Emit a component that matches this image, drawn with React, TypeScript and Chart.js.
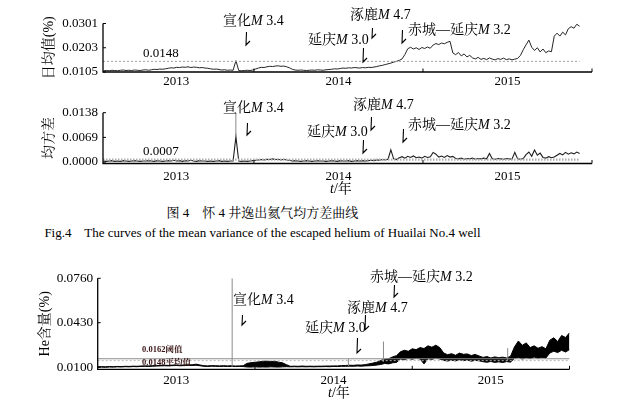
import React, { useEffect, useRef } from 'react';
import { Chart, registerables } from 'chart.js';

Chart.register(...registerables);

const SERIF = "'Liberation Serif','Times New Roman','Noto Serif CJK SC','Noto Sans CJK SC',serif";

// ---------------- data ----------------
// Daily-mean and mean-variance samples (fractional year grid)
const SAMPLE_START_A = 2013.11;
const SAMPLE_STEP_A = 1 / 60;

const dailyMean = [
  0.0110, 0.0111, 0.0110, 0.0112, 0.0111, 0.0110, 0.0112, 0.0113, 0.0111, 0.0112,
  0.0111, 0.0113, 0.0112, 0.0111, 0.0113, 0.0114, 0.0112,
  0.0114, 0.0116, 0.0115, 0.0117, 0.0116, 0.0118,
  0.0120, 0.0122, 0.0121, 0.0124, 0.0123, 0.0125, 0.0124, 0.0126, 0.0123, 0.0125, 0.0124, 0.0122, 0.0123, 0.0121, 0.0120,
  0.0118, 0.0116, 0.0117, 0.0115, 0.0113, 0.0114, 0.0112, 0.0113, 0.0112,
  0.0151,
  0.0111, 0.0110, 0.0111, 0.0112, 0.0111, 0.0113,
  0.0117, 0.0121, 0.0124, 0.0123, 0.0126, 0.0128, 0.0127, 0.0129, 0.0130, 0.0128, 0.0129, 0.0126, 0.0122,
  0.0116, 0.0113, 0.0112, 0.0113, 0.0112, 0.0111, 0.0112, 0.0113, 0.0112, 0.0114, 0.0113, 0.0112, 0.0114, 0.0115,
  0.0116, 0.0118, 0.0117, 0.0119, 0.0121, 0.0120, 0.0122, 0.0121, 0.0123, 0.0122, 0.0121, 0.0123, 0.0122, 0.0124, 0.0123,
  0.0125, 0.0127, 0.0130, 0.0132,
  0.0135, 0.0138, 0.0141, 0.0145, 0.0148, 0.0152,
  0.0158, 0.0176,
  0.0199, 0.0205, 0.0198, 0.0203, 0.0196, 0.0204, 0.0200, 0.0206, 0.0201,
  0.0214, 0.0220, 0.0216, 0.0222, 0.0219, 0.0225, 0.0229,
  0.0182,
  0.0175, 0.0184, 0.0170, 0.0178, 0.0166, 0.0172, 0.0162,
  0.0158, 0.0164, 0.0156, 0.0160, 0.0155, 0.0162, 0.0157, 0.0154, 0.0159, 0.0156, 0.0161, 0.0155, 0.0158, 0.0154, 0.0157, 0.0160,
  0.0172, 0.0195, 0.0215, 0.0234, 0.0205,
  0.0192, 0.0203, 0.0186, 0.0198, 0.0183, 0.0190, 0.0187,
  0.0250,
  0.0262, 0.0250, 0.0266, 0.0255,
  0.0280, 0.0288, 0.0282, 0.0298, 0.0290,
];

const meanVariance = [
  0.0003, 0.0002, 0.0003, 0.0004, 0.0002, 0.0003, 0.0002, 0.0004, 0.0003, 0.0002,
  0.0003, 0.0004, 0.0003, 0.0002, 0.0003, 0.0003, 0.0004,
  0.0003, 0.0002, 0.0004, 0.0003, 0.0002, 0.0003,
  0.0004, 0.0003, 0.0005, 0.0003, 0.0004, 0.0002, 0.0004, 0.0003, 0.0005, 0.0003, 0.0002, 0.0004, 0.0003, 0.0003, 0.0002,
  0.0003, 0.0002, 0.0003, 0.0004, 0.0002, 0.0003, 0.0002, 0.0003, 0.0003,
  0.0071,
  0.0003, 0.0002, 0.0003, 0.0002, 0.0003, 0.0004,
  0.0005, 0.0006, 0.0007, 0.0006, 0.0008, 0.0007, 0.0009, 0.0007, 0.0008, 0.0006, 0.0008, 0.0006, 0.0005,
  0.0003, 0.0004, 0.0003, 0.0002, 0.0003, 0.0004, 0.0003, 0.0002, 0.0003, 0.0004, 0.0003, 0.0003, 0.0002, 0.0003,
  0.0004, 0.0003, 0.0002, 0.0004, 0.0003, 0.0003, 0.0004, 0.0002, 0.0003, 0.0004, 0.0003, 0.0004, 0.0003,
  0.0004, 0.0005, 0.0004, 0.0006, 0.0005, 0.0007, 0.0006, 0.0008,
  0.0034,
  0.0009, 0.0007,
  0.0012, 0.0015, 0.0011, 0.0016, 0.0013, 0.0017, 0.0012, 0.0014, 0.0011, 0.0016, 0.0013, 0.0015,
  0.0027, 0.0022,
  0.0014, 0.0017, 0.0013, 0.0018, 0.0014, 0.0016,
  0.0010, 0.0009, 0.0011, 0.0008, 0.0010, 0.0009, 0.0011, 0.0008, 0.0010, 0.0009, 0.0011, 0.0009,
  0.0024,
  0.0009, 0.0008, 0.0010, 0.0009, 0.0008, 0.0010, 0.0009, 0.0008,
  0.0027,
  0.0009, 0.0008, 0.0010,
  0.0021, 0.0028, 0.0016, 0.0034, 0.0019, 0.0025,
  0.0013, 0.0011, 0.0015, 0.0012, 0.0014,
  0.0019, 0.0024, 0.0020, 0.0027, 0.0022, 0.0026, 0.0023, 0.0028, 0.0024,
];

// He content: upper and lower envelope of the raw record
const SAMPLE_START_B = 2013.0;
const SAMPLE_STEP_B = 1 / 40;

const heHigh = [
  0.0102, 0.0103, 0.0102, 0.0104, 0.0103, 0.0105, 0.0104, 0.0106, 0.0105,
  0.0107, 0.0106, 0.0108, 0.0109, 0.0109, 0.0110, 0.0111,
  0.0113, 0.0114, 0.0113, 0.0115, 0.0116, 0.0114, 0.0116, 0.0117, 0.0117,
  0.0122, 0.0116,
  0.0110, 0.0109, 0.0111, 0.0110, 0.0109, 0.0110, 0.0109,
  0.0110,
  0.0108, 0.0109, 0.0110,
  0.0128, 0.0133, 0.0136, 0.0139, 0.0143, 0.0145, 0.0141, 0.0144, 0.0137, 0.0132, 0.0118,
  0.0106, 0.0107, 0.0106, 0.0108, 0.0106, 0.0107, 0.0106, 0.0107,
  0.0107, 0.0108, 0.0108, 0.0109, 0.0109, 0.0111,
  0.0112, 0.0114, 0.0113, 0.0116, 0.0115, 0.0118,
  0.0124, 0.0130, 0.0137,
  0.0150, 0.0158, 0.0162, 0.0176, 0.0185,
  0.0214, 0.0225, 0.0218, 0.0236, 0.0230, 0.0245, 0.0238, 0.0258, 0.0248, 0.0263,
  0.0245, 0.0205,
  0.0192, 0.0200, 0.0188, 0.0204, 0.0195, 0.0198, 0.0186, 0.0194, 0.0183,
  0.0172, 0.0178, 0.0168, 0.0176, 0.0170, 0.0174, 0.0168, 0.0180,
  0.0250, 0.0294, 0.0262, 0.0280, 0.0245, 0.0258, 0.0240, 0.0252, 0.0236,
  0.0300, 0.0318, 0.0290, 0.0335, 0.0320, 0.0355,
];

const heLow = [
  0.0099, 0.0100, 0.0099, 0.0101, 0.0100, 0.0102, 0.0101, 0.0103, 0.0102,
  0.0104, 0.0103, 0.0105, 0.0106, 0.0105, 0.0107, 0.0108,
  0.0109, 0.0110, 0.0109, 0.0111, 0.0112, 0.0110, 0.0112, 0.0113, 0.0112,
  0.0114, 0.0110,
  0.0106, 0.0105, 0.0107, 0.0106, 0.0105, 0.0106, 0.0105,
  0.0105,
  0.0104, 0.0105, 0.0104,
  0.0101, 0.0100, 0.0102, 0.0100, 0.0101, 0.0100, 0.0102, 0.0101, 0.0100, 0.0102, 0.0103,
  0.0102, 0.0103, 0.0102, 0.0103, 0.0102, 0.0103, 0.0102, 0.0103,
  0.0103, 0.0104, 0.0103, 0.0105, 0.0104, 0.0106,
  0.0106, 0.0107, 0.0106, 0.0108, 0.0107, 0.0109,
  0.0110, 0.0112, 0.0115,
  0.0120, 0.0127, 0.0124, 0.0132, 0.0135,
  0.0160, 0.0155, 0.0165, 0.0158, 0.0167, 0.0160, 0.0124, 0.0163, 0.0157, 0.0168,
  0.0160, 0.0150,
  0.0145, 0.0152, 0.0146, 0.0155, 0.0148, 0.0153, 0.0144, 0.0150, 0.0147,
  0.0140, 0.0136, 0.0142, 0.0135, 0.0139, 0.0134, 0.0141, 0.0137,
  0.0165, 0.0172, 0.0160, 0.0170, 0.0163, 0.0175, 0.0166, 0.0171, 0.0168,
  0.0205, 0.0218, 0.0208, 0.0225, 0.0212, 0.0230,
];

const MEAN_LEVEL = 0.0148;
const VARIANCE_LEVEL = 0.0007;
const HE_THRESHOLD = 0.0162;
const HE_MEAN = 0.0148;

// isolated single-day outliers (thin grey strokes)
const varianceSpikes = [{ x: 2013.893, from: 0.0071, to: 0.0138 }];
const heSpikes = [
  { x: 2013.855, from: 0.0103, to: 0.0760 },
  { x: 2014.594, from: 0.0108, to: 0.0162 },
  { x: 2014.817, from: 0.0140, to: 0.0290 },
  { x: 2015.607, from: 0.0150, to: 0.0241 },
];

const yearNames = ['2013', '2014', '2015'];
const yearBoundaries = [2014, 2015, 2016];
const meanTicks = [0.0105, 0.0203, 0.0301];
const varianceTicks = [0.0, 0.0069, 0.0138];
const heTicks = [0.0100, 0.0430, 0.0760];

const quakes = [
  { place: '宣化', mag: '3.4' },
  { place: '延庆', mag: '3.0' },
  { place: '涿鹿', mag: '4.7' },
  { place: '赤城—延庆', mag: '3.2' },
];

// ---------------- layout ----------------
type NotePos = { tx: number; ty: number; ax: number; a1: number; a2: number };
type Txt = { t: string; x: number; y: number; size: number; bold?: boolean; color?: string };
type Panel = {
  top: number; height: number;
  area: { left: number; right: number; top: number; bottom: number };
  xRange: [number, number]; yRange: [number, number];
  yTicks: number[]; yearPos: number[];
  yTitle: string; yTitleX: number; tickFont: number; yTickPad: number; xTickPad: number;
  datasets: any[]; notes: NotePos[]; texts: Txt[]; xTitle?: { x: number; y: number };
};

const W = 631;

function series(values: number[], start: number, step: number) {
  return values.map((v, i) => ({ x: start + i * step, y: v }));
}
function spikes(list: { x: number; from: number; to: number }[]) {
  const out: any[] = [];
  list.forEach((s) => { out.push({ x: s.x, y: s.from }, { x: s.x, y: s.to }, { x: s.x, y: null }); });
  return out;
}
function hline(v: number, x0: number, x1: number) {
  return [{ x: x0, y: v }, { x: x1, y: v }];
}

const lastA = SAMPLE_START_A + (dailyMean.length - 1) * SAMPLE_STEP_A;

const panel1: Panel = {
  top: 0, height: 92,
  area: { left: 103, right: 592, top: 23.5, bottom: 72 },
  xRange: [2013.107, 2016.0], yRange: [0.0105, 0.0301],
  yTicks: meanTicks, yearPos: [2013.54, 2014.5, 2015.5],
  yTitle: '日均值(%)', yTitleX: 49, tickFont: 13, yTickPad: 5, xTickPad: 2,
  datasets: [
    { data: hline(MEAN_LEVEL, 2013.107, lastA), borderColor: '#a0a0a0', borderWidth: 1, borderDash: [2, 2] },
    { data: series(dailyMean, SAMPLE_START_A, SAMPLE_STEP_A), borderColor: '#262626', borderWidth: 1 },
  ],
  notes: [
    { tx: 223, ty: 21, ax: 246, a1: 32, a2: 45 },
    { tx: 308, ty: 40, ax: 363, a1: 48, a2: 62 },
    { tx: 350, ty: 15, ax: 372, a1: 28, a2: 38 },
    { tx: 408, ty: 30, ax: 402, a1: 30, a2: 43 },
  ],
  texts: [{ t: '0.0148', x: 143, y: 54, size: 13 }],
};

const panel2: Panel = {
  top: 92, height: 110,
  area: { left: 103, right: 592, top: 112.7, bottom: 163.5 },
  xRange: [2013.107, 2016.0], yRange: [-0.0004, 0.0138],
  yTicks: varianceTicks, yearPos: [2013.54, 2014.5, 2015.5],
  yTitle: '均方差', yTitleX: 49, tickFont: 13, yTickPad: 5, xTickPad: 5,
  datasets: [
    { data: hline(VARIANCE_LEVEL, 2013.107, lastA), borderColor: '#b0b0b0', borderWidth: 2.2, borderDash: [1.5, 1.5] },
    { data: spikes(varianceSpikes), borderColor: '#8a8a8a', borderWidth: 1, spanGaps: false },
    { data: series(meanVariance, SAMPLE_START_A, SAMPLE_STEP_A), borderColor: '#1e1e1e', borderWidth: 1.1 },
  ],
  notes: [
    { tx: 223, ty: 108, ax: 247, a1: 123, a2: 135 },
    { tx: 307, ty: 132, ax: 363, a1: 140, a2: 153 },
    { tx: 353, ty: 105, ax: 371, a1: 117, a2: 130 },
    { tx: 408, ty: 125, ax: 403, a1: 129, a2: 142 },
  ],
  texts: [{ t: '0.0007', x: 143, y: 152, size: 13 }],
  xTitle: { x: 330, y: 189 },
};

const panel3: Panel = {
  top: 262, height: 143,
  area: { left: 97.7, right: 569.5, top: 278.3, bottom: 369.3 },
  xRange: [2013.0, 2016.0], yRange: [0.00837, 0.0760],
  yTicks: heTicks, yearPos: [2013.5, 2014.5, 2015.5],
  yTitle: 'He含量(%)', yTitleX: 45, tickFont: 13.3, yTickPad: 4.5, xTickPad: 3,
  datasets: [
    { data: hline(HE_MEAN, 2013.0, 2016.0), borderColor: '#b4b4b4', borderWidth: 1, borderDash: [2, 2] },
    { data: hline(HE_THRESHOLD, 2013.0, 2016.0), borderColor: '#8c8c8c', borderWidth: 1 },
    { data: spikes(heSpikes), borderColor: '#8a8a8a', borderWidth: 1, spanGaps: false },
    { data: series(heHigh, SAMPLE_START_B, SAMPLE_STEP_B), borderColor: '#000', borderWidth: 1, fill: '+1', backgroundColor: '#000' },
    { data: series(heLow, SAMPLE_START_B, SAMPLE_STEP_B), borderColor: '#000', borderWidth: 1 },
  ],
  notes: [
    { tx: 233, ty: 300, ax: 242, a1: 315, a2: 325 },
    { tx: 305, ty: 328, ax: 357, a1: 338, a2: 353 },
    { tx: 347, ty: 308, ax: 365, a1: 315, a2: 330 },
    { tx: 370, ty: 277, ax: 394, a1: 285, a2: 297 },
  ],
  texts: [
    { t: '0.0162阈值', x: 142, y: 350, size: 8.5, bold: true, color: '#3a1414' },
    { t: '0.0148平均值', x: 142, y: 363, size: 8.5, bold: true, color: '#3a1414' },
  ],
  xTitle: { x: 328, y: 393 },
};

// ---------------- drawing helpers ----------------
function drawSegs(ctx: CanvasRenderingContext2D, segs: { t: string; it?: boolean }[], x: number, y: number, size: number) {
  let cx = x;
  ctx.textBaseline = 'middle';
  ctx.textAlign = 'left';
  for (const s of segs) {
    ctx.font = `${s.it ? 'italic ' : ''}${size}px ${SERIF}`;
    ctx.fillText(s.t, cx, y);
    cx += ctx.measureText(s.t).width;
  }
}

function makeDeco(p: Panel) {
  return {
    id: 'deco',
    afterDraw(chart: any) {
      const ctx: CanvasRenderingContext2D = chart.ctx;
      const a = chart.chartArea;
      const xs = chart.scales.x;
      const ys = chart.scales.y;
      const off = p.top;
      ctx.save();
      ctx.strokeStyle = '#000';
      ctx.lineWidth = 1.3;
      ctx.beginPath();
      ctx.moveTo(a.left, a.top);
      ctx.lineTo(a.left, a.bottom);
      ctx.lineTo(a.right, a.bottom);
      ctx.stroke();
      ctx.lineWidth = 1;
      p.yTicks.forEach((v) => {
        const py = ys.getPixelForValue(v);
        ctx.beginPath(); ctx.moveTo(a.left, py); ctx.lineTo(a.left + 3, py); ctx.stroke();
      });
      yearBoundaries.forEach((v) => {
        const px = xs.getPixelForValue(v);
        ctx.beginPath(); ctx.moveTo(px, a.bottom); ctx.lineTo(px, a.bottom - 3.5); ctx.stroke();
      });
      ctx.fillStyle = '#000';
      // earthquake annotations
      p.notes.forEach((n, i) => {
        const q = quakes[i];
        drawSegs(ctx, [{ t: q.place }, { t: 'M', it: true }, { t: ' ' + q.mag }], n.tx, n.ty - off, 14);
        ctx.lineWidth = 1.1;
        ctx.beginPath();
        ctx.moveTo(n.ax + 0.5, n.a1 - off);
        ctx.lineTo(n.ax, n.a2 - off);
        ctx.lineTo(n.ax + 4, n.a2 - off - 4);
        ctx.stroke();
      });
      p.texts.forEach((t) => {
        ctx.fillStyle = t.color || '#000';
        ctx.font = `${t.bold ? 'bold ' : ''}${t.size}px ${SERIF}`;
        ctx.textAlign = 'left';
        ctx.textBaseline = 'middle';
        ctx.fillText(t.t, t.x, t.y - off);
      });
      if (p.xTitle) {
        ctx.fillStyle = '#000';
        drawSegs(ctx, [{ t: 't', it: true }, { t: '/年' }], p.xTitle.x, p.xTitle.y - off, 14);
      }
      ctx.restore();
    },
  };
}

function buildConfig(p: Panel): any {
  return {
    type: 'line',
    data: { datasets: p.datasets.map((d) => ({ pointRadius: 0, fill: false, ...d })) },
    options: {
      animation: false,
      responsive: false,
      maintainAspectRatio: false,
      events: [],
      layout: { padding: { left: 0, top: p.area.top - p.top, right: W - p.area.right, bottom: 0 } },
      plugins: { legend: { display: false }, tooltip: { enabled: false } },
      elements: { point: { radius: 0 }, line: { tension: 0 } },
      scales: {
        x: {
          type: 'linear',
          min: p.xRange[0],
          max: p.xRange[1],
          afterBuildTicks: (s: any) => { s.ticks = p.yearPos.map((v) => ({ value: v })); },
          afterFit: (s: any) => { s.height = p.top + p.height - p.area.bottom; },
          ticks: {
            autoSkip: false, maxRotation: 0, minRotation: 0, padding: p.xTickPad, color: '#000',
            font: { family: SERIF, size: 13 },
            callback: (_v: any, i: number) => yearNames[i],
          },
          grid: { display: false, drawTicks: false, tickLength: 0 },
          border: { display: false },
        },
        y: {
          type: 'linear',
          min: p.yRange[0],
          max: p.yRange[1],
          afterBuildTicks: (s: any) => { s.ticks = p.yTicks.map((v) => ({ value: v })); },
          afterFit: (s: any) => { s.width = p.area.left; },
          ticks: {
            padding: p.yTickPad, color: '#000',
            font: { family: SERIF, size: p.tickFont },
            callback: (v: any) => Number(v).toFixed(4),
          },
          grid: { display: false, drawTicks: false, tickLength: 0 },
          border: { display: false },
          title: {
            display: true, text: p.yTitle, color: '#000',
            font: { family: SERIF, size: 14 },
            padding: { top: p.yTitleX - 8.4, bottom: 0 },
          },
        },
      },
    },
    plugins: [makeDeco(p)],
  };
}

function PanelChart({ p }: { p: Panel }) {
  const ref = useRef<HTMLCanvasElement>(null);
  useEffect(() => {
    const chart = new Chart(ref.current as HTMLCanvasElement, buildConfig(p));
    return () => chart.destroy();
  }, [p]);
  return (
    <canvas
      ref={ref}
      width={W}
      height={p.height}
      style={{ position: 'absolute', left: 0, top: p.top, width: W, height: p.height }}
    />
  );
}

export default function App() {
  return (
    <div style={{ position: 'absolute', left: 0, top: 0, width: W, height: 405, background: '#fff', overflow: 'hidden' }}>
      <PanelChart p={panel1} />
      <PanelChart p={panel2} />
      <PanelChart p={panel3} />
      <div style={{ position: 'absolute', left: 0, top: 204, width: 525, textAlign: 'center', font: `13px ${SERIF}`, lineHeight: '18px', color: '#000', whiteSpace: 'pre' }}>
        {'图 4\u3000怀 4 井逸出氦气均方差曲线'}
      </div>
      <div style={{ position: 'absolute', left: 0, top: 224, width: 525, textAlign: 'center', font: `13px ${SERIF}`, lineHeight: '18px', color: '#000', whiteSpace: 'pre' }}>
        {'Fig.4    The curves of the mean variance of the escaped helium of Huailai No.4 well'}
      </div>
    </div>
  );
}
